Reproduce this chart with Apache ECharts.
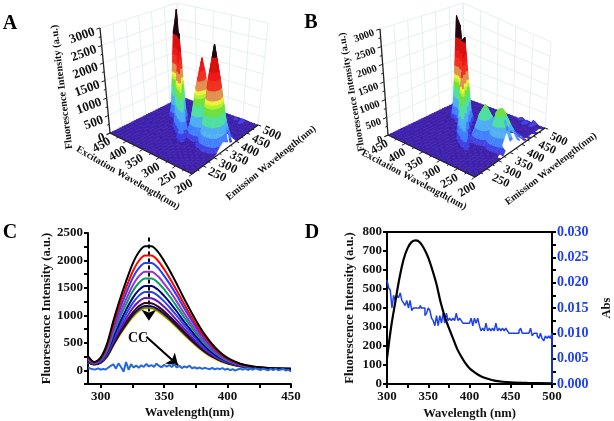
<!DOCTYPE html>
<html><head><meta charset="utf-8">
<style>html,body{margin:0;padding:0;background:#fff}#c{width:614px;height:421px}</style>
<script src="https://cdn.jsdelivr.net/npm/echarts@6/dist/echarts.min.js"></script>
</head><body><div id="c"></div>
<script>
// ---- Panel C ----
const wlC=[290,295,300,305,310,315,320,325,330,335,340,345,350,355,360,365,370,375,380,385,390,395,400,405,410,415,420,430,440,450];
const curveColors=['#000000','#ff0000','#2040ff','#9933cc','#00a060','#000088','#2a46e6','#6a14c4','#3a0020','#0a0a70','#808000','#e8e800'];
const cBlack=[260,150,230,480,900,1280,1620,1930,2150,2260,2260,2160,1990,1790,1570,1340,1120,910,720,560,420,310,225,165,120,90,70,45,32,25];
const cRed=[240,145,215,445,835,1190,1500,1785,1990,2090,2090,2000,1840,1655,1450,1240,1035,840,665,520,390,290,210,155,115,85,65,45,32,25];
const cBlue=[220,140,200,420,780,1110,1400,1670,1860,1955,1955,1870,1720,1550,1360,1160,970,790,625,485,365,270,200,145,110,80,62,42,30,24];
const cPurple=[205,135,190,385,715,1020,1290,1535,1710,1795,1795,1715,1580,1425,1250,1065,890,725,575,445,335,250,185,135,100,75,58,40,30,24];
const cGreen=[195,130,180,360,665,950,1200,1430,1590,1670,1670,1600,1475,1325,1160,990,830,675,535,415,315,235,170,125,95,72,56,40,30,25];
const cNavy=[185,125,170,330,610,870,1100,1310,1460,1535,1535,1470,1355,1220,1070,910,765,620,490,380,290,215,160,120,90,68,54,38,28,24];
const cBlue2=[175,120,160,305,565,805,1020,1215,1355,1425,1425,1360,1255,1130,990,845,705,575,455,355,270,200,150,112,85,65,52,38,30,26];
const cViolet=[165,115,150,285,525,745,945,1125,1250,1315,1310,1255,1155,1040,910,780,650,530,420,325,250,185,140,105,80,62,50,38,30,26];
const cMaroon=[155,110,145,265,490,695,880,1045,1165,1225,1220,1165,1075,965,850,725,605,495,390,305,235,175,130,100,76,60,48,36,28,24];
const cDark=[150,108,140,255,470,665,840,1000,1115,1170,1165,1115,1030,925,810,695,580,475,375,290,225,170,128,98,75,60,48,36,30,26];
const cOlive=[145,105,138,250,455,650,820,975,1085,1140,1135,1085,1000,900,790,675,565,460,365,285,220,165,125,95,73,58,46,36,30,26];
const cYellow=[140,100,130,240,445,635,800,955,1065,1125,1120,1070,985,885,775,660,550,445,350,270,205,155,115,88,68,54,44,34,28,26];
const curvesC=[cBlack,cRed,cBlue,cPurple,cGreen,cNavy,cBlue2,cViolet,cMaroon,cDark,cOlive,cYellow];
const ccStart=290, ccStep=2;
const ccValues=[50,30,20,15,35,10,25,15,50,80,110,30,125,60,-25,150,10,110,50,85,45,90,60,115,70,95,60,120,80,55,100,65,95,60,110,50,80,40,70,50,85,35,55,30,50,25,45,30,20,45,15,35,20,40,10,30,0,20,-5,15,30,10,35,5,30,10,35,20,5,30,15,0,25,5,30,0,15,25,-5,10,-25];
// ---- Panel D ----
const wlD=[300,305,310,315,320,325,330,335,340,345,350,355,360,365,370,375,380,385,390,395,400,405,410,415,420,430,440,450,470,500];
const fluorD=[135,300,430,555,654,715,748,756,745,712,665,600,525,430,355,295,240,185,145,110,83,65,50,38,30,18,12,9,6,3];
const absStart=300, absStep=2;
const absValues=[.0205,.019,.0185,.015,.0175,.0165,.0175,.017,.018,.0165,.016,.0155,.0165,.015,.0165,.0145,.015,.015,.015,.015,.0155,.015,.015,.0135,.014,.015,.0145,.013,.0125,.0115,.0135,.0115,.0135,.012,.014,.012,.014,.0125,.013,.0125,.013,.0125,.014,.0125,.013,.0125,.012,.012,.012,.012,.012,.013,.0115,.013,.012,.013,.0115,.0105,.011,.0105,.012,.0105,.011,.0105,.011,.0105,.012,.0105,.011,.0105,.011,.0105,.011,.0105,.0100,.0100,.0100,.0100,.0100,.0100,.0105,.011,.0100,.0100,.0100,.0100,.0100,.011,.0095,.0100,.0100,.0095,.009,.0100,.009,.0085,.0095,.009,.0095,.009,.0100];
// ---- Panels A, B : rows of [excitation, first emission, values every 10 nm] ----
const exAxisVals=[200,250,300,350,400,450];
const emAxisVals=[250,300,350,400,450,500];
const zAxisVals=[0,500,1000,1500,2000,2500,3000];
const rowsA=[
[200,300,10,60,145,210,250,210,160,110,70,30,12,5,2],
[210,300,46,290,665,980,1150,980,750,520,310,140,58,23,12],
[220,300,90,560,1305,1910,2250,1910,1460,1010,610,270,112,45,22],
[230,300,114,710,1650,2420,2850,2420,1850,1280,770,340,142,57,28],
[240,300,88,550,1275,1870,2200,1870,1430,990,595,265,110,44,22],
[250,300,40,250,580,850,1000,850,650,450,270,120,50,20,10],
[260,300,14,88,200,300,350,300,228,158,95,42,18,7,4],
[270,320,46,290,665,980,1150,980,750,520,310,140,58,23,12],
[280,320,90,560,1305,1910,2250,1910,1460,1010,610,270,112,45,22],
[290,320,68,425,985,1445,1700,1445,1105,765,460,205,85,34,17],
[300,320,32,200,465,680,800,680,520,360,215,96,40,16,8],
[310,320,9,55,128,187,220,187,143,99,60,26,11,4,2],
[240,470,90,140,70],[260,480,110,60]
];
// [excitation, centre emission, flank below, centre, flank above]
const ridgeA=[[290,290,5,40,5],[300,300,15,120,15],[310,310,70,400,70],[320,330,180,850,180],[330,340,300,1300,300],[340,350,400,1700,400],[350,360,520,2150,520],[360,380,650,2650,650],[370,390,600,2600,600],[380,400,780,3250,780],[390,400,600,2600,600],[400,410,250,1100,250],[410,420,60,300,60]];
const gapsA=[[200,360],[200,380],[200,390],[210,370]];
const rowsB=[
[200,320,35,140,250,330,350,310,240,175,110,65,35,20,10],
[210,320,60,240,430,570,600,530,415,300,190,110,60,30,18],
[220,320,90,360,650,855,900,790,620,450,290,160,90,45,27],
[230,320,115,460,830,1095,1150,1015,795,575,370,205,115,60,35],
[240,320,110,440,790,1045,1090,960,755,545,350,200,110,55,33],
[250,320,64,255,460,610,640,565,440,320,205,115,64,32,20],
[260,320,42,170,300,400,420,370,290,210,135,75,42,20,12],
[270,320,85,330,590,790,840,730,570,410,260,150,80,40,24],
[280,320,105,410,730,980,1050,900,700,500,320,175,98,50,30],
[290,320,80,320,580,770,820,710,550,390,250,140,78,40,24],
[300,320,38,150,270,360,380,335,260,190,120,68,38,20,12],
[310,320,12,48,86,115,120,105,82,60,38,22,12,6,4],
[230,480,120,190,80],[250,480,150,110],[270,490,120,70]
];
const ridgeB=[[280,280,15,100,15],[290,290,50,300,50],[300,300,100,550,100],[310,310,170,800,170],[320,320,250,1100,250],[330,340,350,1450,350],[340,350,430,1800,430],[350,370,540,2200,540],[360,390,650,2650,650],[370,390,600,2500,600],[380,400,700,2900,700],[390,400,760,3150,760],[400,410,550,2300,550],[410,420,180,800,180],[420,430,40,200,40]];
const gapsB=[[200,310],[200,330],[200,340],[200,360],[200,370],[200,390],[200,400],[200,420],[200,440],[200,450],[200,470],[200,480],[210,350],[210,380],[210,410]];
const bandLevels=[-1e9,60,200,420,680,960,1160,1260,1370,1630,1900,2120,2500,1e9];
const bandColors=['#3c1eaa','#4040e4','#4080ff','#50b0f2','#50e0a0','#70e040','#b4f030','#f2f040','#e09050','#f03020','#f01818','#d81010','#200810'];

const FONT='"Liberation Serif"';
const panelA={emDy:0,font:12.5,zFont:13,corners:{F:[192,174],L:[110,133],R:[258,125],B:[182,97],TF:[188,58],TL:[100,28],TR:[268,23],TB:[177,3]},
  titles:[['Fluorescence Intensity (a.u.)',62,87,97,10.4],['Excitation Wavelength(nm)',128,178,-30,10],['Emission Wavelength(nm)',271,163,39,10]]};
const panelB={emDy:3,font:12,zFont:10.5,corners:{F:[475,177],L:[388,135],R:[545,128],B:[465,98],TF:[470,62],TL:[380,29],TR:[551,42],TB:[463,3]},
  titles:[['Fluorescence Intensity (a.u.)',352,92,99.5,10],['Excitation Wavelength(nm)',414,180,-28,10],['Emission Wavelength(nm)',551,169,37.5,10]]};
function project(p,ex,em,z){
  const u=(ex-200)/250,v=(em-200)/300,w=z/3000,c=p.corners;
  return [0,1].map(i=>{
    const b=c.F[i]*(1-u)*(1-v)+c.L[i]*u*(1-v)+c.R[i]*(1-u)*v+c.B[i]*u*v;
    const t=c.TF[i]*(1-u)*(1-v)+c.TL[i]*u*(1-v)+c.TR[i]*(1-u)*v+c.TB[i]*u*v;
    return b*(1-w)+t*w;});
}
function buildCells(rows,ridge,gaps){
  const g={};const key=(a,b)=>a+'_'+b;
  rows.forEach(r=>{for(let i=2;i<r.length;i++){const k=key(r[0],r[1]+(i-2)*10);g[k]=(g[k]||0)+r[i];}});
  ridge.forEach(r=>{[-10,0,10].forEach((d,i)=>{const k=key(r[0],r[1]+d);g[k]=(g[k]||0)+r[i+2];});});
  const gap=new Set(gaps.map(a=>key(a[0],a[1])));
  const cells=[];
  for(let ex=440;ex>=200;ex-=10)for(let em=490;em>=200;em-=10){
    if(gap.has(key(ex,em)))continue;
    cells.push([ex,em,g[key(ex,em)]||0,g[key(ex+10,em)]||0,g[key(ex,em+10)]||0,g[key(ex+10,em+10)]||0]);
  }
  cells.sort((a,b)=>(b[0]-200)/250+(b[1]-200)/300-(a[0]-200)/250-(a[1]-200)/300);
  return cells;
}
function clip(poly,level,keepAbove){
  const out=[];
  for(let i=0;i<poly.length;i++){
    const a=poly[i],b=poly[(i+1)%poly.length];
    const ia=keepAbove?a[2]>=level:a[2]<=level, ib=keepAbove?b[2]>=level:b[2]<=level;
    if(ia)out.push(a);
    if(ia!==ib){const t=(level-a[2])/(b[2]-a[2]);out.push([a[0]+t*(b[0]-a[0]),a[1]+t*(b[1]-a[1]),level]);}
  }
  return out;
}
function surfaceSeries(p,rows,ridge,gaps){
  return {type:'custom',xAxisIndex:2,yAxisIndex:3,coordinateSystem:'cartesian2d',clip:false,silent:true,animation:false,
    data:buildCells(rows,ridge,gaps),encode:{x:0,y:1},
    renderItem(params,api){
      const ex=api.value(0),em=api.value(1),a=api.value(2),b=api.value(3),c=api.value(4),d=api.value(5);
      const A=[ex,em,a],B=[ex+10,em,b],C=[ex,em+10,c],D=[ex+10,em+10,d];
      const children=[];
      [[D,B,C],[B,C,A]].forEach(tri=>{
        const lo=Math.min(tri[0][2],tri[1][2],tri[2][2]),hi=Math.max(tri[0][2],tri[1][2],tri[2][2]);
        for(let i=0;i<bandColors.length;i++){
          if(hi<bandLevels[i]||lo>bandLevels[i+1])continue;
          let poly=clip(tri,bandLevels[i],true);
          if(poly.length)poly=clip(poly,bandLevels[i+1],false);
          if(poly.length<3)continue;
          const pts=poly.map(q=>api.coord(project(p,q[0],q[1],q[2])));
          children.push({type:'polygon',shape:{points:pts},style:{fill:bandColors[i],stroke:bandColors[i],lineWidth:.5}});
        }
      });
      return {type:'group',children};
    }};
}
function frameSeries(p,front){
  return {type:'custom',xAxisIndex:2,yAxisIndex:3,coordinateSystem:'cartesian2d',clip:false,silent:true,animation:false,
    data:[[0,0]],encode:{x:0,y:1},
    renderItem(params,api){
      const ch=[];
      const pt=(ex,em,z)=>api.coord(project(p,ex,em,z));
      const line=(P,Q,col,w)=>ch.push({type:'line',shape:{x1:P[0],y1:P[1],x2:Q[0],y2:Q[1]},style:{stroke:col,lineWidth:w}});
      const txt=(s,P,rot,size,align)=>ch.push({type:'text',x:P[0],y:P[1],rotation:rot*Math.PI/180,
        style:{text:s,fontFamily:FONT,fontWeight:'bold',fontSize:size,fill:'#111',align,verticalAlign:'middle'}});
      if(!front){
        const col='#e6f0f0';
        zAxisVals.slice(1).forEach(z=>{line(pt(450,200,z),pt(450,500,z),col,1);line(pt(450,500,z),pt(200,500,z),col,1);});
        emAxisVals.forEach(e=>line(pt(450,e,0),pt(450,e,3000),col,1));
        line(pt(450,200,0),pt(450,200,3000),col,1);
        exAxisVals.forEach(e=>line(pt(e,500,0),pt(e,500,3000),col,1));
        return {type:'group',children:ch};
      }
      line(pt(450,200,0),pt(200,200,0),'#222',1.3);
      line(pt(200,200,0),pt(200,500,0),'#222',1.3);
      line(pt(450,200,0),pt(450,200,3000),'#222',1.3);
      for(let e=200;e<=450;e+=25){const maj=e%50===0;line(pt(e,200,0),pt(e,maj?186:192,0),'#222',1);
        if(maj){const P=pt(e,182,0);txt(String(e),[P[0]+4,P[1]+5.5],30,p.font,'right');}}
      for(let e=225;e<=500;e+=25){const maj=e%50===0;line(pt(200,e,0),pt(maj?190:194,e,0),'#222',1);
        if(maj){const P=pt(186,e,0);txt(String(e),[P[0]+1,P[1]+3+p.emDy],-25,p.font,'left');}}
      for(let z=0;z<=3000;z+=250){const maj=z%500===0;line(pt(450,200,z),pt(450,maj?186:192,z),'#222',1);
        if(maj){const P=pt(450,182,z);txt(String(z),[P[0]-1,P[1]+2],20,p.zFont,'right');}}
      p.titles.forEach(t=>txt(t[0],[t[1],t[2]],t[3],t[4],'center'));
      return {type:'group',children:ch};
    }};
}
const tickLab={fontFamily:FONT,fontWeight:'bold',fontSize:13,color:'#111',formatter:v=>String(v)};
const nameSt={fontFamily:FONT,fontWeight:'bold',fontSize:12.6,color:'#111'};
const blackLine={lineStyle:{color:'#000',width:2}};
const series=[];
curvesC.forEach((c,i)=>series.push({type:'line',xAxisIndex:0,yAxisIndex:0,smooth:.3,symbol:'none',animation:false,
  data:c.map((v,j)=>[wlC[j],v]),lineStyle:{color:curveColors[i],width:2},z:3+(12-i)}));
series.push({type:'line',xAxisIndex:0,yAxisIndex:0,symbol:'none',animation:false,z:20,
  data:ccValues.map((v,i)=>[ccStart+i*ccStep,v]),lineStyle:{color:'#2468dc',width:2},
  markLine:{silent:true,animation:false,label:{show:false},lineStyle:{color:'#000',width:2,type:'solid'},
    data:[[{coord:[338,2420],symbol:'none',lineStyle:{type:[4,3],width:2,color:'#000'}},{coord:[338,900],symbol:'arrow',symbolSize:11}],
          [{coord:[336,610],symbol:'none'},{coord:[361,90],symbol:'arrow',symbolSize:11}]]},
  markPoint:{silent:true,animation:false,symbol:'circle',symbolSize:0,
    data:[{coord:[329.5,580],label:{show:true,position:'inside',formatter:'CC',fontFamily:FONT,fontWeight:'bold',fontSize:14,color:'#111'}}]}});
series.push({type:'line',xAxisIndex:1,yAxisIndex:1,smooth:.3,symbol:'none',animation:false,z:5,
  data:fluorD.map((v,i)=>[wlD[i],v]),lineStyle:{color:'#000',width:2.2}});
series.push({type:'line',xAxisIndex:1,yAxisIndex:2,step:'end',symbol:'none',animation:false,z:4,
  data:absValues.map((v,i)=>[absStart+i*absStep,v]).concat([[500,0]]),lineStyle:{color:'#2040f0',width:1.5}});
[[panelA,rowsA,ridgeA,gapsA],[panelB,rowsB,ridgeB,gapsB]].forEach(a=>{
  series.push(frameSeries(a[0],false));
  series.push(surfaceSeries(a[0],a[1],a[2],a[3]));
  series.push(frameSeries(a[0],true));
});
const hide={show:false};
const panelLetters=[['A',10,24],['B',311,23],['C',10,233],['D',312,233]];
const tick={length:4,lineStyle:{width:2,color:'#000'}};
const option={
  animation:false,backgroundColor:'#fff',
  graphic:panelLetters.map(l=>({type:'text',x:l[1],y:l[2],style:{text:l[0],fontFamily:FONT,fontWeight:'bold',fontSize:20,fill:'#000',align:'center',verticalAlign:'middle'}})),
  grid:[{left:88,top:233,width:203,height:151},{left:387,top:232,width:172,height:152,show:true,borderColor:'#000',borderWidth:2},{left:0,top:0,width:614,height:421}],
  xAxis:[
    {gridIndex:0,type:'value',min:290,max:450,position:'bottom',splitLine:hide,axisLine:{onZero:false,...blackLine},
      axisTick:{...tick,customValues:[300,325,350,375,400,425,450]},
      axisLabel:{...tickLab,margin:6,customValues:[300,350,400,450]},
      name:'Wavelength(nm)',nameLocation:'center',nameGap:22,nameTextStyle:nameSt},
    {gridIndex:1,type:'value',min:300,max:500,position:'bottom',splitLine:hide,axisLine:{onZero:false,...blackLine},
      axisTick:{...tick,customValues:[300,325,350,375,400,425,450,475,500]},axisLabel:{...tickLab,margin:6,customValues:[300,350,400,450,500]},
      name:'Wavelength (nm)',nameLocation:'center',nameGap:23,nameTextStyle:nameSt},
    {gridIndex:2,type:'value',min:0,max:614,show:false}
  ],
  yAxis:[
    {gridIndex:0,type:'value',min:-250,max:2500,position:'left',splitLine:hide,axisLine:{onZero:false,...blackLine},
      axisTick:{...tick,customValues:[-250,0,250,500,750,1000,1250,1500,1750,2000,2250,2500]},
      axisLabel:{...tickLab,margin:5,customValues:[0,500,1000,1500,2000,2500]},
      name:'Fluorescence Intensity (a.u.)',nameLocation:'center',nameGap:28,nameTextStyle:nameSt},
    {gridIndex:1,type:'value',min:0,max:800,interval:100,position:'left',splitLine:hide,axisLine:{onZero:false,...blackLine},
      axisTick:tick,axisLabel:{...tickLab,margin:5},
      name:'Fluorescence Intensity (a.u.)',nameLocation:'center',nameGap:31,nameTextStyle:nameSt},
    {gridIndex:1,type:'value',min:0,max:.03,position:'right',splitLine:hide,axisLine:{onZero:false,...blackLine},
      axisTick:{...tick,customValues:[0,.0025,.005,.0075,.01,.0125,.015,.0175,.02,.0225,.025,.0275,.03]},
      axisLabel:{...tickLab,fontSize:14,color:'#2040f0',margin:5,customValues:[0,.005,.01,.015,.02,.025,.03],formatter:v=>v.toFixed(3)},
      name:'Abs',nameLocation:'center',nameGap:48,nameRotate:90,nameTextStyle:nameSt},
    {gridIndex:2,type:'value',min:0,max:421,inverse:true,show:false}
  ],
  series
};
echarts.init(document.getElementById('c'),null,{renderer:'canvas'}).setOption(option);
</script></body></html>
